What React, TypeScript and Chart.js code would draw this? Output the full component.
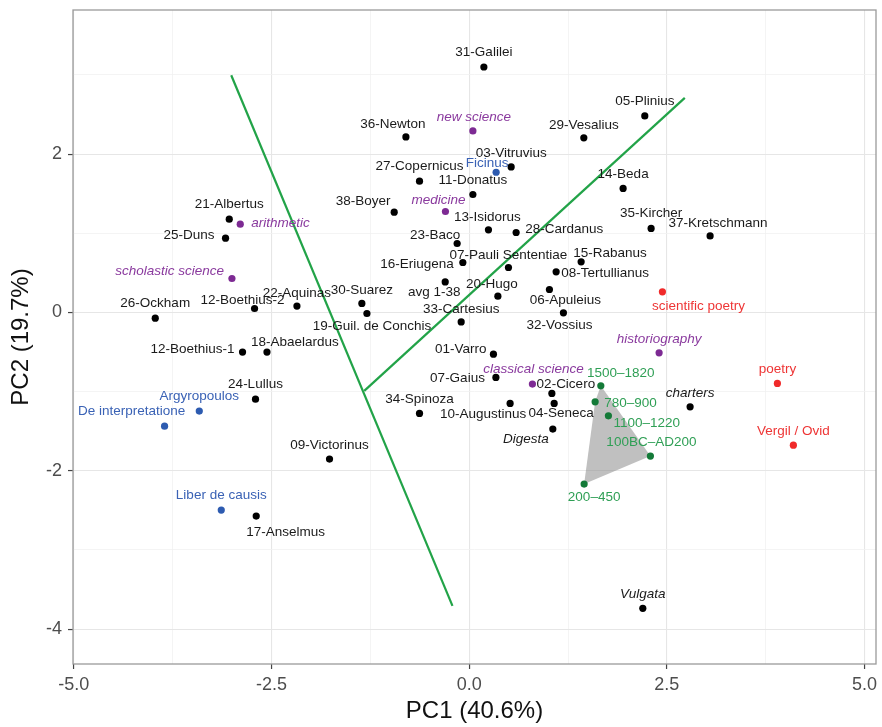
import React, { useEffect, useRef } from 'react';
import { Chart, registerables } from 'chart.js';

Chart.register(...registerables);

// ---------- data (PC1, PC2) ----------
const blackNames = [
  '31-Galilei', '36-Newton', '29-Vesalius', '03-Vitruvius', '27-Copernicus', '11-Donatus',
  '38-Boyer', '13-Isidorus', '28-Cardanus', '23-Baco', '05-Plinius', '14-Beda',
  '35-Kircher', '37-Kretschmann', '21-Albertus', '25-Duns', '26-Ockham', '12-Boethius-2',
  '22-Aquinas', '12-Boethius-1', '18-Abaelardus', '24-Lullus', '16-Eriugena', '07-Pauli Sententiae',
  '15-Rabanus', '08-Tertullianus', 'avg 1-38', '20-Hugo', '06-Apuleius', '33-Cartesius',
  '32-Vossius', '30-Suarez', '19-Guil. de Conchis', '01-Varro', '07-Gaius', '02-Cicero',
  '04-Seneca', '10-Augustinus', '34-Spinoza', 'Digesta', '09-Victorinus', '17-Anselmus',
  'charters', 'Vulgata',
];
const blackX = [
  0.186, -0.8, 1.45, 0.531, -0.628, 0.047,
  -0.948, 0.244, 0.594, -0.152, 2.221, 1.947,
  2.301, 3.047, -3.034, -3.081, -3.97, -2.714,
  -2.178, -2.866, -2.557, -2.702, -0.08, 0.497,
  1.416, 1.1, -0.303, 0.363, 1.015, -0.101,
  1.192, -1.357, -1.293, 0.307, 0.338, 1.046,
  1.075, 0.518, -0.628, 1.058, -1.766, -2.693,
  2.794, 2.196,
];
const blackY = [
  3.1, 2.217, 2.205, 1.838, 1.658, 1.49,
  1.266, 1.043, 1.01, 0.871, 2.482, 1.566,
  1.061, 0.967, 1.178, 0.938, -0.072, 0.05,
  0.08, -0.501, -0.501, -1.095, 0.631, 0.568,
  0.639, 0.513, 0.386, 0.206, 0.29, -0.119,
  -0.005, 0.114, -0.013, -0.527, -0.821, -1.023,
  -1.149, -1.149, -1.275, -1.473, -1.852, -2.572,
  -1.192, -3.737,
];

const purpleNames = ['new science', 'medicine', 'arithmetic', 'scholastic science', 'classical science', 'historiography'];
const purpleX = [0.047, -0.3, -2.895, -3.0, 0.8, 2.402];
const purpleY = [2.293, 1.275, 1.115, 0.429, -0.905, -0.51];

const blueNames = ['Ficinus', 'Argyropoulos', 'De interpretatione', 'Liber de causis'];
const blueX = [0.341, -3.413, -3.852, -3.135];
const blueY = [1.771, -1.246, -1.436, -2.496];

const redNames = ['scientific poetry', 'poetry', 'Vergil / Ovid'];
const redX = [2.444, 3.898, 4.1];
const redY = [0.26, -0.896, -1.676];

const greenNames = ['1500\u20131820', '780\u2013900', '1100\u20131220', '100BC\u2013AD200', '200\u2013450'];
const greenX = [1.665, 1.593, 1.761, 2.292, 1.454];
const greenY = [-0.927, -1.129, -1.306, -1.814, -2.168];

// boundary lines
const lineAX = [-3.009, -0.211];
const lineAY = [2.996, -3.705];
const lineBX = [-1.327, 2.727];
const lineBY = [-0.99, 2.71];

const italicBlack = ['Digesta', 'charters', 'Vulgata'];

// axis ticks
const xTickValues = [-5, -3.75, -2.5, -1.25, 0, 1.25, 2.5, 3.75, 5];
const xTickMajor = [-5, -2.5, 0, 2.5, 5];
const yTickValues = [-4, -3, -2, -1, 0, 1, 2, 3];
const yTickMajor = [-4, -2, 0, 2];

// ---------- label placement (pixel offsets from each dot: dx, dy, align) ----------
type Place = [number, number, 'c' | 'l' | 'r'];
const blackPlace: Place[] = [
  [0, -15, 'c'], [-13, -13, 'c'], [0, -13, 'c'], [0, -14, 'c'], [0, -15, 'c'], [0, -14, 'c'],
  [-31, -11, 'c'], [-1, -13, 'c'], [9, -3, 'l'], [-22, -8, 'c'], [0, -15, 'c'], [0, -14, 'c'],
  [0, -15, 'c'], [8, -13, 'c'], [0, -15, 'c'], [-11, -3, 'r'], [0, -15, 'c'], [-12, -8, 'c'],
  [0, -13, 'c'], [-8, -3, 'r'], [-16, -10, 'l'], [0, -15, 'c'], [-9, 2, 'r'], [0, -12, 'c'],
  [-8, -9, 'l'], [5, 1, 'l'], [-11, 10, 'c'], [-6, -12, 'c'], [16, 11, 'c'], [0, -13, 'c'],
  [-4, 12, 'c'], [0, -13, 'c'], [5, 13, 'c'], [-7, -5, 'r'], [-11, 1, 'r'], [14, -9, 'c'],
  [7, 10, 'c'], [-27, 11, 'c'], [0, -14, 'c'], [-27, 10, 'c'], [0, -14, 'c'], [-10, 16, 'l'],
  [0, -14, 'c'], [0, -14, 'c'],
];
const purplePlace: Place[] = [[1, -14, 'c'], [-7, -11, 'c'], [11, -1, 'l'], [-8, -7, 'r'], [1, -15, 'c'], [0, -14, 'c']];
const bluePlace: Place[] = [[-9, -9, 'c'], [0, -15, 'c'], [-33, -15, 'c'], [0, -15, 'c']];
const redPlace: Place[] = [[36, 14, 'c'], [0, -14, 'c'], [0, -14, 'c']];
const greenPlace: Place[] = [[20, -13, 'c'], [9, 1, 'l'], [5, 7, 'l'], [1, -14, 'c'], [10, 13, 'c']];

const FONT = '"Liberation Sans", Arial, Helvetica, sans-serif';

const toPts = (xs: number[], ys: number[]) => xs.map((x, i) => ({ x, y: ys[i] }));

function convexHull(pts: { x: number; y: number }[]) {
  const p = [...pts].sort((a, b) => a.x - b.x || a.y - b.y);
  const cross = (o: any, a: any, b: any) => (a.x - o.x) * (b.y - o.y) - (a.y - o.y) * (b.x - o.x);
  const lower: any[] = [];
  for (const q of p) {
    while (lower.length >= 2 && cross(lower[lower.length - 2], lower[lower.length - 1], q) <= 0) lower.pop();
    lower.push(q);
  }
  const upper: any[] = [];
  for (let i = p.length - 1; i >= 0; i--) {
    const q = p[i];
    while (upper.length >= 2 && cross(upper[upper.length - 2], upper[upper.length - 1], q) <= 0) upper.pop();
    upper.push(q);
  }
  upper.pop();
  lower.pop();
  return lower.concat(upper);
}

const groups = [
  { names: blackNames, xs: blackX, ys: blackY, place: blackPlace, text: '#1a1a1a', italicAll: false },
  { names: purpleNames, xs: purpleX, ys: purpleY, place: purplePlace, text: '#8a3a9e', italicAll: true },
  { names: blueNames, xs: blueX, ys: blueY, place: bluePlace, text: '#3a62b5', italicAll: false },
  { names: redNames, xs: redX, ys: redY, place: redPlace, text: '#ee3535', italicAll: false },
  { names: greenNames, xs: greenX, ys: greenY, place: greenPlace, text: '#2f9f55', italicAll: false },
];

const hullPlugin = {
  id: 'hull',
  beforeDatasetsDraw(chart: any) {
    const { ctx, scales } = chart;
    const hull = convexHull(toPts(greenX, greenY));
    ctx.save();
    ctx.beginPath();
    hull.forEach((p: any, i: number) => {
      const px = scales.x.getPixelForValue(p.x);
      const py = scales.y.getPixelForValue(p.y);
      if (i === 0) ctx.moveTo(px, py);
      else ctx.lineTo(px, py);
    });
    ctx.closePath();
    ctx.fillStyle = 'rgba(140,140,140,0.55)';
    ctx.fill();
    ctx.restore();
  },
};

const labelPlugin = {
  id: 'labels',
  afterDatasetsDraw(chart: any) {
    const { ctx, scales } = chart;
    ctx.save();
    ctx.textBaseline = 'middle';
    for (const g of groups) {
      g.names.forEach((name, i) => {
        const px = scales.x.getPixelForValue(g.xs[i]);
        const py = scales.y.getPixelForValue(g.ys[i]);
        const [dx, dy, al] = g.place[i];
        const italic = g.italicAll || italicBlack.includes(name);
        ctx.font = `${italic ? 'italic ' : ''}13.5px ${FONT}`;
        ctx.fillStyle = g.text;
        ctx.textAlign = al === 'c' ? 'center' : al === 'l' ? 'left' : 'right';
        ctx.fillText(name, px + dx, py + dy);
      });
    }
    ctx.restore();
  },
};

const borderPlugin = {
  id: 'panelBorder',
  afterDraw(chart: any) {
    const { ctx, chartArea } = chart;
    ctx.save();
    ctx.strokeStyle = '#9a9a9a';
    ctx.lineWidth = 1.3;
    ctx.strokeRect(chartArea.left, chartArea.top, chartArea.right - chartArea.left, chartArea.bottom - chartArea.top);
    ctx.restore();
  },
};

export default function App() {
  const ref = useRef<HTMLCanvasElement>(null);

  useEffect(() => {
    document.body.style.margin = '0';
    const canvas = ref.current!;
    const pointDs = (data: any[], color: string) => ({
      type: 'scatter' as const,
      data,
      pointRadius: 3.6,
      pointHoverRadius: 3.6,
      pointBackgroundColor: color,
      pointBorderWidth: 0,
      borderWidth: 0,
      showLine: false,
      order: 0,
    });
    const lineDs = (xs: number[], ys: number[]) => ({
      type: 'scatter' as const,
      data: toPts(xs, ys),
      showLine: true,
      borderColor: '#22a348',
      borderWidth: 2.2,
      pointRadius: 0,
      pointHoverRadius: 0,
      fill: false,
      order: 5,
    });

    const chart = new Chart(canvas, {
      type: 'scatter',
      data: {
        datasets: [
          lineDs(lineAX, lineAY),
          lineDs(lineBX, lineBY),
          pointDs(toPts(blackX, blackY), '#000000'),
          pointDs(toPts(purpleX, purpleY), '#7d2a93'),
          pointDs(toPts(blueX, blueY), '#2d5bb0'),
          pointDs(toPts(redX, redY), '#f02a2a'),
          pointDs(toPts(greenX, greenY), '#147a38'),
        ] as any,
      },
      options: {
        animation: false,
        responsive: false,
        devicePixelRatio: 1,
        events: [],
        layout: { padding: { top: 10, right: 6, left: 0, bottom: 0 } },
        plugins: { legend: { display: false }, tooltip: { enabled: false } },
        scales: {
          x: {
            type: 'linear',
            min: -5.01,
            max: 5.145,
            afterBuildTicks: (s: any) => {
              s.ticks = xTickValues.map((v) => ({ value: v }));
            },
            afterFit: (s: any) => {
              s.height = 63;
              s.paddingLeft = 0;
              s.paddingRight = 0;
            },
            border: { display: false },
            grid: {
              drawTicks: true,
              tickLength: 5,
              color: (c: any) => (xTickMajor.includes(c.tick?.value) ? '#e6e6e6' : '#f1f1f1'),
              lineWidth: (c: any) => (xTickMajor.includes(c.tick?.value) ? 1.1 : 0.8),
              tickColor: (c: any) => (xTickMajor.includes(c.tick?.value) ? '#444' : 'rgba(0,0,0,0)'),
              tickWidth: 1.2,
            },
            ticks: {
              padding: 5,
              maxRotation: 0,
              autoSkip: false,
              color: '#4d4d4d',
              font: { size: 18, family: FONT },
              callback: (v: any) => (xTickMajor.includes(Number(v)) ? Number(v).toFixed(1) : ''),
            },
            title: {
              display: true,
              text: 'PC1 (40.6%)',
              color: '#111',
              font: { size: 24, family: FONT },
              padding: { top: 0, bottom: 1 },
            },
          },
          y: {
            type: 'linear',
            min: -4.44,
            max: 3.82,
            afterBuildTicks: (s: any) => {
              s.ticks = yTickValues.map((v) => ({ value: v }));
            },
            afterFit: (s: any) => {
              s.width = 73;
              s.paddingTop = 0;
              s.paddingBottom = 0;
            },
            border: { display: false },
            grid: {
              drawTicks: true,
              tickLength: 5,
              color: (c: any) => (yTickMajor.includes(c.tick?.value) ? '#e6e6e6' : '#f1f1f1'),
              lineWidth: (c: any) => (yTickMajor.includes(c.tick?.value) ? 1.1 : 0.8),
              tickColor: (c: any) => (yTickMajor.includes(c.tick?.value) ? '#444' : 'rgba(0,0,0,0)'),
              tickWidth: 1.2,
            },
            ticks: {
              padding: 6,
              autoSkip: false,
              color: '#4d4d4d',
              font: { size: 18, family: FONT },
              callback: (v: any) => (yTickMajor.includes(Number(v)) ? String(v) : ''),
            },
            title: {
              display: true,
              text: 'PC2 (19.7%)',
              color: '#111',
              font: { size: 24, family: FONT },
              padding: { top: 7, bottom: 0 },
            },
          },
        },
      },
      plugins: [hullPlugin, labelPlugin, borderPlugin],
    });
    return () => chart.destroy();
  }, []);

  return (
    <div style={{ width: 882, height: 727 }}>
      <canvas ref={ref} width={882} height={727} style={{ display: 'block' }} />
    </div>
  );
}
